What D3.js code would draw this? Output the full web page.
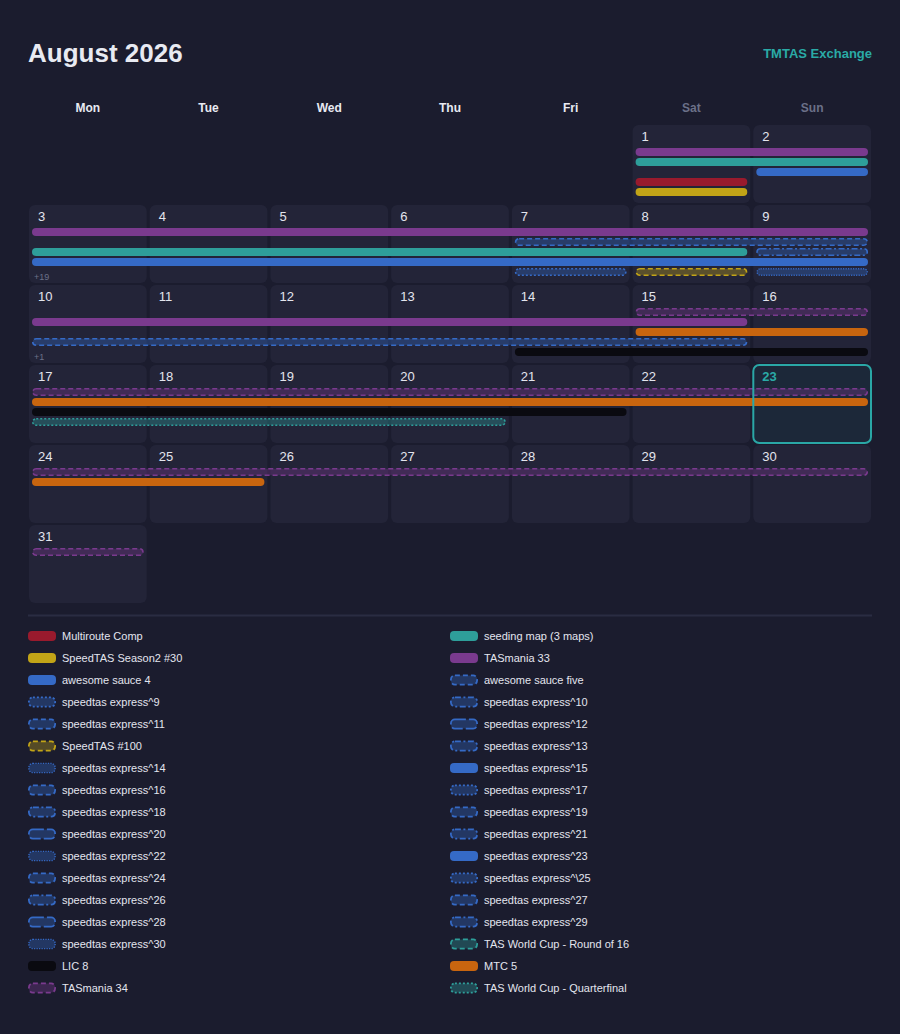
<!DOCTYPE html>
<html><head><meta charset="utf-8">
<script src="https://cdn.jsdelivr.net/npm/d3@7"></script>
<style>html,body{margin:0;background:#1b1c2e;} svg{display:block}</style>
</head><body><svg id="c" width="900" height="1034"></svg>
<script>
// ---------- data ----------
const title = "August 2026";
const brand = "TMTAS Exchange";
const calYear = 2026, calMonth = 7; // August (0-based)
const todayDate = 23;
const weekdayLabels = ["Mon","Tue","Wed","Thu","Fri","Sat","Sun"];

const legendSeries = [
  "Multiroute Comp","seeding map (3 maps)",
  "SpeedTAS Season2 #30","TASmania 33",
  "awesome sauce 4","awesome sauce five",
  "speedtas express^9","speedtas express^10",
  "speedtas express^11","speedtas express^12",
  "SpeedTAS #100","speedtas express^13",
  "speedtas express^14","speedtas express^15",
  "speedtas express^16","speedtas express^17",
  "speedtas express^18","speedtas express^19",
  "speedtas express^20","speedtas express^21",
  "speedtas express^22","speedtas express^23",
  "speedtas express^24","speedtas express^\\25",
  "speedtas express^26","speedtas express^27",
  "speedtas express^28","speedtas express^29",
  "speedtas express^30","TAS World Cup - Round of 16",
  "LIC 8","MTC 5",
  "TASmania 34","TAS World Cup - Quarterfinal"
];

// visible events: name, first day, last day, lane (slot order) in each week it covers
const eventNames = ["TASmania 33","seeding map (3 maps)","awesome sauce 4","Multiroute Comp","SpeedTAS Season2 #30",
  "awesome sauce five","speedtas express^10","speedtas express^9","SpeedTAS #100","speedtas express^14",
  "TASmania 34","MTC 5","LIC 8","TAS World Cup - Quarterfinal"];
const eventStartDays = [1,1,2,1,1, 7,9,7,8,9, 15,15,14,17];
const eventEndDays   = [15,8,9,1,1, 15,9,7,8,9, 31,25,21,20];
const eventWeekLanes = [[0,0,1],[1,2],[2,3],[3],[4], [1,3],[2],[4],[4],[4], [0,0,0,0],[2,1,1],[4,2],[3]];
const hiddenPerWeek = [0,19,1,0,0,0];

// ---------- styles ----------
const C = {red:"#991a2d", teal:"#2e9e9a", gold:"#c2a417", purple:"#7a3a8e", blue:"#356ac6", black:"#0a0a10", orange:"#c8650f"};
const expressCycle = ["dotted","dashdot","dashed","longdash","dashdot","fine","solid","dashed"];
function styleOf(name){
  const fixed = {
    "Multiroute Comp":[C.red,"solid"], "seeding map (3 maps)":[C.teal,"solid"],
    "SpeedTAS Season2 #30":[C.gold,"solid"], "TASmania 33":[C.purple,"solid"],
    "awesome sauce 4":[C.blue,"solid"], "awesome sauce five":[C.blue,"dashed"],
    "SpeedTAS #100":[C.gold,"dashed"], "TAS World Cup - Round of 16":[C.teal,"dashed"],
    "LIC 8":[C.black,"solid"], "MTC 5":[C.orange,"solid"], "TASmania 34":[C.purple,"dashed"],
    "TAS World Cup - Quarterfinal":[C.teal,"dotted"]
  };
  if (fixed[name]) return fixed[name];
  const n = +name.replace(/[^0-9]/g,"");
  return [C.blue, expressCycle[(n-9)%8]];
}
const dashes = {dashed:"5,3", dotted:"2,2", dashdot:"6,2.5,2,2.5", longdash:"11,3", fine:"1.2,1.3"};

const FONT = "'Liberation Sans', Arial, Helvetica, sans-serif";
const svg = d3.select("#c").style("font-family", FONT);
svg.append("rect").attr("width",900).attr("height",1034).attr("fill","#1b1c2e");

// header
svg.append("text").attr("x",28).attr("y",61.5).text(title)
  .attr("fill","#e8eaf2").attr("font-size",26).attr("font-weight","bold");
svg.append("text").attr("x",872).attr("y",58).attr("text-anchor","end").text(brand)
  .attr("fill","#2aaaa6").attr("font-size",13).attr("font-weight","bold");

// calendar geometry
const offset = (new Date(calYear, calMonth, 1).getDay() + 6) % 7;
const daysInMonth = new Date(calYear, calMonth + 1, 0).getDate();
const nWeeks = Math.ceil((offset + daysInMonth) / 7);
const x = d3.scaleBand().domain(d3.range(7)).range([29, 871]).paddingInner(0.025);
const y = d3.scaleBand().domain(d3.range(nWeeks)).range([125, 125 + nWeeks*80 - 2]).paddingInner(0.025);
const lane = d3.scaleLinear().domain([0,1]).range([23,33]);
const pos = d => { const i = offset + d - 1; return {w: Math.floor(i/7), c: i % 7}; };

svg.append("g").selectAll("text").data(weekdayLabels).join("text")
  .attr("x",(d,i)=>x(i)+x.bandwidth()/2).attr("y",112).attr("text-anchor","middle")
  .attr("font-size",12).attr("font-weight","bold")
  .attr("fill",(d,i)=> i>=5 ? "#6b7088" : "#e8eaf2").text(d=>d);

const days = d3.range(1, daysInMonth+1);
const cells = svg.append("g").selectAll("g").data(days).join("g")
  .attr("transform", d => `translate(${x(pos(d).c)},${y(pos(d).w)})`);
cells.append("rect").attr("width",x.bandwidth()).attr("height",y.bandwidth()).attr("rx",6)
  .attr("fill", d => d===todayDate ? "#1c2839" : "#232438");
cells.append("text").attr("x",9).attr("y",16).attr("font-size",13)
  .attr("font-weight", d => d===todayDate ? "bold" : "normal")
  .attr("fill", d => d===todayDate ? "#2aaaa6" : "#e3e5ee").text(d=>d);

// more labels
svg.append("g").selectAll("text").data(hiddenPerWeek.map((n,w)=>({n,w})).filter(d=>d.n>0)).join("text")
  .attr("x",x(0)+5).attr("y",d=>y(d.w)+y.bandwidth()-3).attr("font-size",9).attr("fill","#6b7088")
  .text(d=>"+"+d.n);

// event segments
const segs = [];
eventNames.forEach((name,k)=>{
  const s = pos(eventStartDays[k]), e = pos(eventEndDays[k]);
  for (let w = s.w, j = 0; w <= e.w; w++, j++) {
    segs.push({name, w, c0: w===s.w ? s.c : 0, c1: w===e.w ? e.c : 6, lane: eventWeekLanes[k][j]});
  }
});
const barH = 8;
svg.append("g").selectAll("rect").data(segs).join("rect")
  .each(function(d){
    const [col, pat] = styleOf(d.name);
    const x0 = x(d.c0)+3, x1 = x(d.c1)+x.bandwidth()-3, y0 = y(d.w)+lane(d.lane);
    const el = d3.select(this);
    if (pat === "solid") {
      el.attr("x",x0).attr("y",y0).attr("width",x1-x0).attr("height",barH).attr("rx",4).attr("fill",col);
    } else {
      el.attr("x",x0+0.75).attr("y",y0+0.75).attr("width",x1-x0-1.5).attr("height",barH-1.5).attr("rx",3.5)
        .attr("fill",col).attr("fill-opacity",0.35).attr("stroke",col).attr("stroke-width", pat==="fine"?1.3:1.6)
        .attr("stroke-dasharray",dashes[pat]);
    }
  });

// today outline
const tp = pos(todayDate);
svg.append("rect").attr("x",x(tp.c)).attr("y",y(tp.w)).attr("width",x.bandwidth()).attr("height",y.bandwidth())
  .attr("rx",6).attr("fill","none").attr("stroke","#2aa7a6").attr("stroke-width",2);

// separator
svg.append("rect").attr("x",28).attr("y",614.5).attr("width",844).attr("height",2).attr("fill","#2a2c42");

// legend
const lx = d3.scaleOrdinal().domain([0,1]).range([28,450]);
const ly = d3.scaleLinear().domain([0,1]).range([636,658]);
const items = svg.append("g").selectAll("g").data(legendSeries).join("g")
  .attr("transform",(d,i)=>`translate(${lx(i%2)},${ly(Math.floor(i/2))})`);
items.each(function(name){
  const [col, pat] = styleOf(name);
  const g = d3.select(this);
  if (pat === "solid") {
    g.append("rect").attr("x",0).attr("y",-5).attr("width",28).attr("height",10).attr("rx",4).attr("fill",col);
  } else {
    g.append("rect").attr("x",0.9).attr("y",-4.6).attr("width",26.2).attr("height",9.2).attr("rx",4)
      .attr("fill",col).attr("fill-opacity",0.35).attr("stroke",col).attr("stroke-width",pat==="fine"?1.4:1.8)
      .attr("stroke-dasharray",dashes[pat]);
  }
  g.append("text").attr("x",34).attr("y",4).attr("font-size",11).attr("fill","#e3e5ee").text(name);
});
</script></body></html>
